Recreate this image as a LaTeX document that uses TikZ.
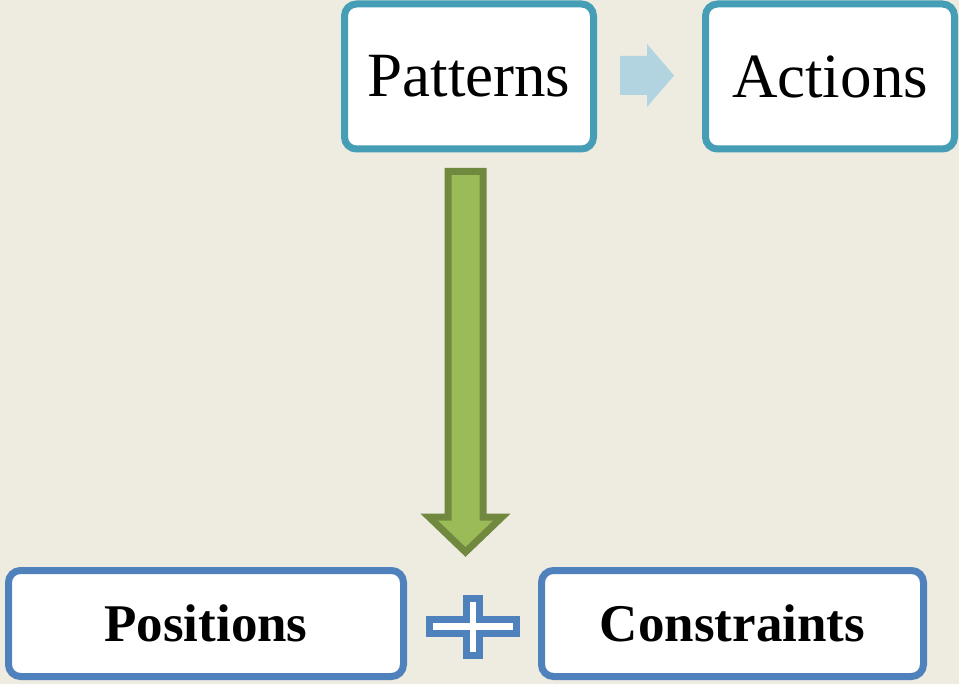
\documentclass[tikz,border=0pt]{standalone}
\usepackage{fontspec}
\setmainfont{Liberation Serif}
\definecolor{bgbeige}{HTML}{EEEBE0}
\definecolor{tealline}{HTML}{469EB6}
\definecolor{blueline}{HTML}{4F81BD}
\definecolor{greenfill}{HTML}{9BBB59}
\definecolor{greenline}{HTML}{71893F}
\definecolor{lightarrow}{HTML}{B1D4E0}
\usetikzlibrary{calc, positioning}

\tikzset{
	topbox/.style={draw=tealline, line width=7pt, fill=white, rounded corners=12pt, minimum width=249pt, minimum height=145pt, inner sep=0pt, font=\fontsize{63}{70}\selectfont},
	botbox/.style={draw=blueline, line width=7pt, fill=white, rounded corners=12pt, minimum height=106pt, inner sep=0pt, font=\fontsize{53}{60}\selectfont\bfseries}
}

\begin{document}
\begin{tikzpicture}[x=1pt,y=1pt]
			\fill[bgbeige] (0,0) rectangle (959,-684);
			\useasboundingbox (0,0) rectangle (959,-684);
			
			\node[topbox] (pat) at (469,-76.5) {Patterns};
			\node[topbox] (act) at (830,-76.5) {Actions};
			
			\node[botbox, minimum width=395pt] (pos) at (206,-623.5) {Positions};
			\node[botbox, minimum width=382pt] (con) at (732.5,-623.5) {Constraints};
			
			% light arrow
			\coordinate (lstart) at ($(pat.east)+(23,1)$);
			\fill[lightarrow] ($(lstart)+(0,19.5)$) -- ++(27,0) -- ++(0,12) -- ($(lstart)+(54,0)$) -- ($(lstart)+(27,-31.5)$) -- ++(0,12) -- ++(-27,0) -- cycle;
			
			% green arrow
			\coordinate (gtop) at ($(pat.south)+(-3.5,-19)$);
			\coordinate (gtip) at ($(pos.north -| gtop)+(0,15)$);
			\draw[greenline, fill=greenfill, line width=7pt] ($(gtop)+(-17.5,0)$) -- ($(gtop)+(17.5,0)$) -- ($(gtip)+(17.5,35)$) -- ($(gtip)+(36.5,35)$) -- (gtip) -- ($(gtip)+(-36.5,35)$) -- ($(gtip)+(-17.5,35)$) -- cycle;
			
			% plus
			\coordinate (pc) at ($(pos.east)!0.5!(con.west)+(0,-3)$);
			\draw[blueline, fill=white, line width=7pt] ($(pc)+(-43.5,7)$) -- ++(37,0) -- ++(0,21.5) -- ++(13,0) -- ++(0,-21.5) -- ++(37,0) -- ++(0,-14) -- ++(-37,0) -- ++(0,-21.5) -- ++(-13,0) -- ++(0,21.5) -- ++(-37,0) -- cycle;
			
		\end{tikzpicture}
\end{document}
